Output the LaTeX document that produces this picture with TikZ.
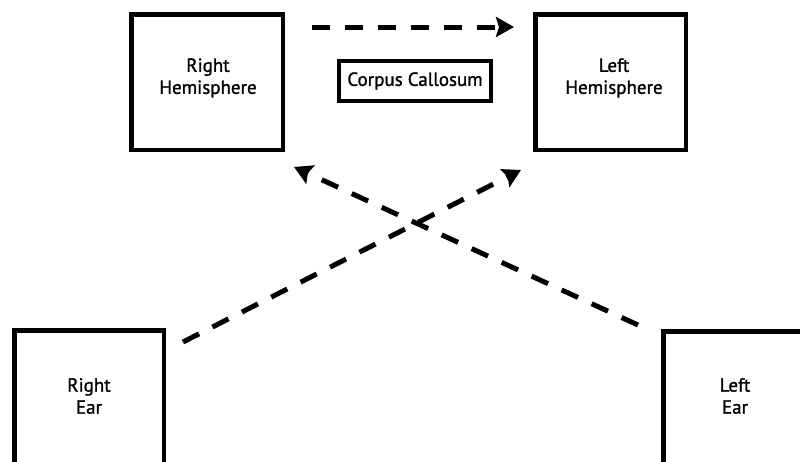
\documentclass[tikz,border=0pt]{standalone}
\usepackage{fontspec}
\setmainfont{PT Sans}
\newfontfamily\lblfont[FakeBold=1.2]{PT Sans}
\usetikzlibrary{arrows.meta}
\begin{document}
\begin{tikzpicture}[x=1pt,y=-1pt,
  box/.style={draw=black,line width=4.5pt,inner sep=0pt,fill=none},
  lbl/.style={align=center,font=\lblfont\fontsize{19}{22}\selectfont,inner sep=0pt},
  conn/.style={line width=5pt,dash pattern=on 18pt off 15pt,
    -{Stealth[length=18pt,width=20pt,inset=3pt]}}]
\useasboundingbox (0,0) rectangle (800,461);
\fill[white] (0,0) rectangle (800,461);
% hemispheres
\node[box,minimum width=151.5pt,minimum height=135.5pt] (rh) at (207,82) {};
\node[lbl] (rht) at (208,78) {Right\\Hemisphere};
\node[box,minimum width=150.5pt,minimum height=135.5pt] (lh) at (610.5,82) {};
\node[lbl] (lht) at (614,78) {Left\\Hemisphere};
% corpus callosum
\node[box,line width=4pt,minimum width=152pt,minimum height=40pt,lbl] (cc) at (415,81) {Corpus Callosum};
% ears
\node[box,minimum width=149.5pt,minimum height=160pt] (re) at (89,410.25) {};
\node[lbl] (ret) at (89,396) {Right\\Ear};
\node[box,minimum width=160pt,minimum height=160pt] (le) at (743.25,411.25) {};
\node[lbl] (let) at (735,396) {Left\\Ear};
% connector ends
\coordinate (a1) at (312,27);
\coordinate (a2) at (514,27);
\coordinate (b1) at (183,342);
\coordinate (b2) at (521,170);
\coordinate (c1) at (638,325);
\coordinate (c2) at (294,167);
\draw[conn] (a1) -- (a2);
\draw[conn] (b1) -- (b2);
\draw[conn] (c1) -- (c2);
\end{tikzpicture}
\end{document}
